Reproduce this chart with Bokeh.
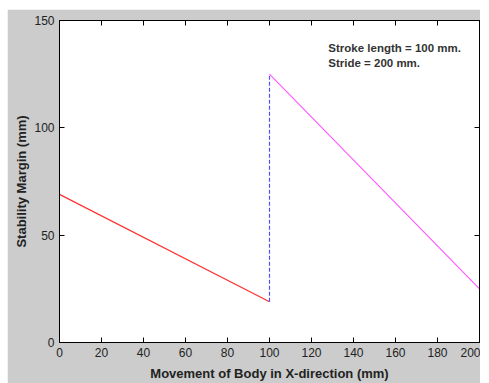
from bokeh.plotting import figure
from bokeh.models import LinearAxis, Range1d, FixedTicker
from bokeh.embed import file_html
from bokeh.resources import INLINE
from bokeh.core.properties import value

# Data
red_x = [0, 100]
red_y = [69, 19]
blue_x = [100, 100]
blue_y = [19, 125]
mag_x = [100, 200]
mag_y = [125, 25]
x_ticks = [0, 20, 40, 60, 80, 100, 120, 140, 160, 180, 200]
y_ticks = [0, 50, 100, 150]
notes = ["Stroke length = 100 mm.", "Stride = 200 mm."]

FONT = "Liberation Sans"

p = figure(width=473, height=374, output_backend="svg", toolbar_location=None,
           x_range=Range1d(0, 200), y_range=Range1d(0, 150),
           background_fill_color="white", border_fill_color="#cccccc",
           min_border_left=52, min_border_top=11, min_border_right=1, min_border_bottom=39)
p.margin = (9, 0, 0, 7)
p.grid.visible = False
p.outline_line_color = "black"

p.line(red_x, red_y, line_color="#ff3030", line_width=1.2)
p.line(blue_x, blue_y, line_color="#5050ff", line_width=1.2, line_dash="4 2")
p.line(mag_x, mag_y, line_color="#ff55ff", line_width=1.1)

p.text(x=[128, 128], y=[137.2, 130.4], text=notes, text_font=value(FONT),
       text_font_size="11.5px", text_font_style="bold", text_color="#333333",
       text_baseline="middle", text_align="left")

for ax in (p.xaxis[0], p.yaxis[0]):
    ax.major_tick_in = 5
    ax.major_tick_out = 0
    ax.minor_tick_line_color = None
    ax.axis_line_color = "black"
    ax.major_label_text_font = FONT
    ax.major_label_text_font_size = "12px"
    ax.major_label_text_color = "#222222"
    ax.axis_label_text_font = FONT
    ax.axis_label_text_font_size = "13px"
    ax.axis_label_text_font_style = "bold"
    ax.axis_label_text_color = "#222222"

p.xaxis[0].ticker = FixedTicker(ticks=x_ticks)
p.yaxis[0].ticker = FixedTicker(ticks=y_ticks)
p.xaxis[0].axis_label = "Movement of Body in X-direction (mm)"
p.yaxis[0].axis_label = "Stability Margin (mm)"
p.xaxis[0].major_label_standoff = 5
p.xaxis[0].axis_label_standoff = 6
p.yaxis[0].major_label_standoff = 5
p.yaxis[0].axis_label_standoff = 2

top = LinearAxis(ticker=FixedTicker(ticks=x_ticks),
                 major_label_overrides={t: "" for t in x_ticks},
                 major_tick_in=5, major_tick_out=0, minor_tick_line_color=None,
                 major_label_standoff=0)
right = LinearAxis(ticker=FixedTicker(ticks=y_ticks),
                   major_label_overrides={t: "" for t in y_ticks},
                   major_tick_in=5, major_tick_out=0, minor_tick_line_color=None,
                   major_label_standoff=0)
p.add_layout(top, "above")
p.add_layout(right, "right")

open("out.html", "w").write(file_html(p, INLINE))
